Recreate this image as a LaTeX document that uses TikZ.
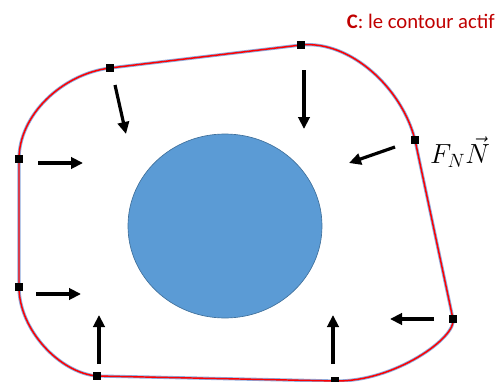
\documentclass[tikz,border=0pt]{standalone}
\usepackage{fontspec}
\newfontfamily\labfont{Carlito}
\usepackage{tikz}
\usetikzlibrary{arrows.meta,shapes.geometric}

\definecolor{cellblue}{HTML}{5B9BD5}
\definecolor{celledge}{HTML}{41719C}
\definecolor{snakered}{HTML}{FF0000}
\definecolor{snakeshade}{HTML}{8FAADC}
\definecolor{titlered}{HTML}{C00000}

\begin{document}
\begin{tikzpicture}[
  x=0.75pt, y=-0.75pt,
  ctrl/.style={fill=black, draw=none, minimum size=6pt, inner sep=0pt},
  force/.style={-{Triangle[length=9pt, width=8.5pt]}, line width=2.4pt, draw=black},
  shade/.style={draw=snakeshade, line width=2.4pt},
  snake/.style={draw=snakered, line width=1.1pt},
  lab/.style={inner sep=0pt}
]
  \useasboundingbox (0,0) rectangle (497,382);

  % object to segment
  \node[ellipse, fill=cellblue, draw=celledge, line width=0.5pt,
        minimum width=145.5pt, minimum height=138pt, inner sep=0pt] (cell) at (225,226) {};

  % control points of the contour
  \coordinate (p1) at (110,68);
  \coordinate (p2) at (301,45);
  \coordinate (p3) at (415,140);
  \coordinate (p4) at (453,319);
  \coordinate (p5) at (335,381);
  \coordinate (p6) at (97,376);
  \coordinate (p7) at (19,287);
  \coordinate (p8) at (19,159);

  \foreach \sty in {shade, snake}
    \draw[\sty] (p1) -- (p2) .. controls (350,40) and (402,88) .. (p3)
      -- (p4) .. controls (457,337) and (395,382) .. (p5)
      -- (p6) .. controls (60,373) and (19,330) .. (p7)
      -- (p8) .. controls (19,115) and (62,74) .. (p1);

  \foreach \i in {1,...,8}
    \node[ctrl] (m\i) at (p\i) {};

  % normal forces
  \coordinate (f1a) at (115,85);   \coordinate (f1b) at (126,134);
  \coordinate (f2a) at (304,70);   \coordinate (f2b) at (304,129);
  \coordinate (f3a) at (395,147);  \coordinate (f3b) at (349,163);
  \coordinate (f4a) at (434,319);  \coordinate (f4b) at (390,319);
  \coordinate (f5a) at (333,364);  \coordinate (f5b) at (333,315);
  \coordinate (f6a) at (99,364);   \coordinate (f6b) at (99,315);
  \coordinate (f7a) at (36,294);   \coordinate (f7b) at (81,294);
  \coordinate (f8a) at (38,163);   \coordinate (f8b) at (83,163);
  \foreach \i in {1,...,8}
    \draw[force] (f\i a) -- (f\i b);

  \node[lab, text=titlered, anchor=east, font=\labfont\fontsize{15.5}{18}\selectfont] (title)
    at (495,21) {\textbf{C}: le contour actif};
  \node[lab, font=\fontsize{21}{24}\selectfont] (fn) at (460,152) {$F_N\vec{N}$};
\end{tikzpicture}
\end{document}
